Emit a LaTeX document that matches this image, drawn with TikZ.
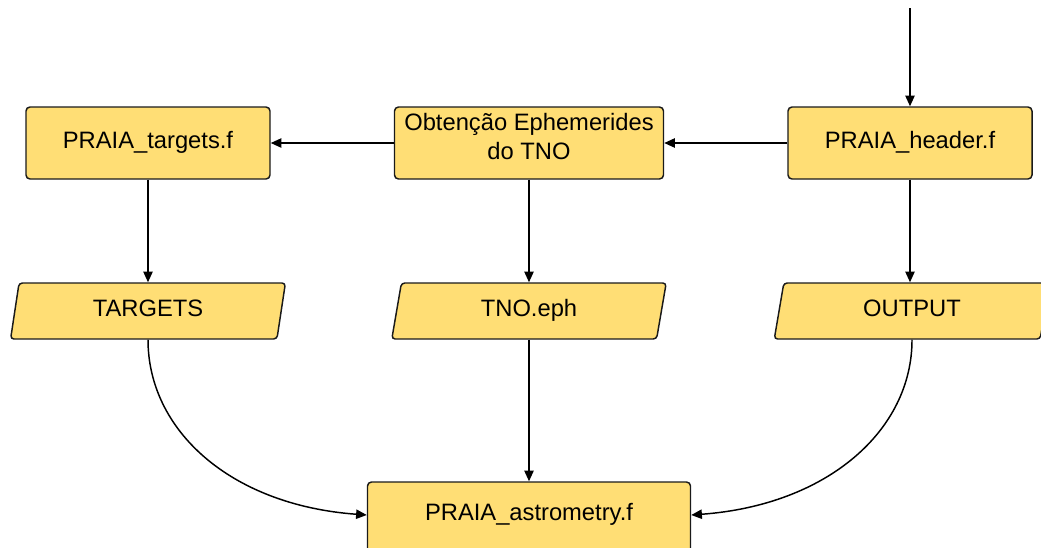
\documentclass[tikz,border=0pt]{standalone}
\usepackage{fontspec}
\setmainfont{Liberation Sans}
\usetikzlibrary{arrows.meta,shapes.geometric}
\definecolor{boxfill}{HTML}{FFDE75}
\definecolor{boxline}{HTML}{1A1A1A}
\newcommand{\lifted}[2]{\raisebox{#1}[0pt][0pt]{#2}}
\newcommand{\nudged}[2]{\raisebox{#1}[\height][\depth]{#2}}
\tikzset{
  procbox/.style={draw=boxline, fill=boxfill, line width=1.1pt, rounded corners=3pt,
    minimum width=183pt, minimum height=54pt, inner sep=0pt, align=center,
    font=\fontsize{17.8}{21.75}\selectfont},
  iobox/.style={draw=boxline, fill=boxfill, line width=1.1pt, rounded corners=2.5pt,
    trapezium, trapezium left angle=78, trapezium right angle=102, trapezium stretches=true,
    minimum width=207pt, minimum height=42pt, inner sep=0pt,
    text height=12.8pt, text depth=0pt,
    font=\fontsize{17.8}{21.75}\selectfont},
  conn/.style={draw=black, line width=1.1pt, -{Triangle[length=8pt,width=7pt]}}
}
\begin{document}
\begin{tikzpicture}[x=0.75pt,y=-0.75pt]
\useasboundingbox (0,0) rectangle (1041,547);
\node[procbox] (targetsf) at (148,143) {\lifted{-3.75pt}{PRAIA\_targets.f}};
\node[procbox, minimum width=201.75pt] (obt) at (529,143)
  {\lifted{-12pt}{\begin{tabular}[b]{@{}c@{}}Obtenção Ephemerides\\do TNO\end{tabular}}};
\node[procbox] (header) at (910,143) {\lifted{-3.75pt}{PRAIA\_header.f}};
\node[iobox] (targets) at (148,311) {\nudged{2.6pt}{TARGETS}};
\node[iobox] (tnoeph) at (529,311) {\nudged{2.6pt}{TNO.eph}};
\node[iobox] (output) at (912,311) {\nudged{2.6pt}{OUTPUT}};
\node[procbox, minimum width=242.25pt, minimum height=54pt] (astro) at (529,518) {\lifted{-1.5pt}{PRAIA\_astrometry.f}};
\coordinate (topin) at (910,8);
\draw[conn] (topin) -- (header.north);
\draw[conn] (header.west) -- (obt.east);
\draw[conn] (obt.west) -- (targetsf.east);
\draw[conn] (targetsf.south) -- (targetsf.south |- targets.north);
\draw[conn] (obt.south) -- (obt.south |- tnoeph.north);
\draw[conn] (header.south) -- (header.south |- output.north);
\draw[conn] (tnoeph.south) -- (tnoeph.south |- astro.north);
\coordinate (astroL) at ([yshift=2.25pt]astro.west);
\coordinate (astroR) at ([yshift=2.25pt]astro.east);
\draw[conn] (targets.south) .. controls (148,430) and (230,505) .. (astroL);
\draw[conn] (output.south) .. controls (912,430) and (828,505) .. (astroR);
\end{tikzpicture}
\end{document}
